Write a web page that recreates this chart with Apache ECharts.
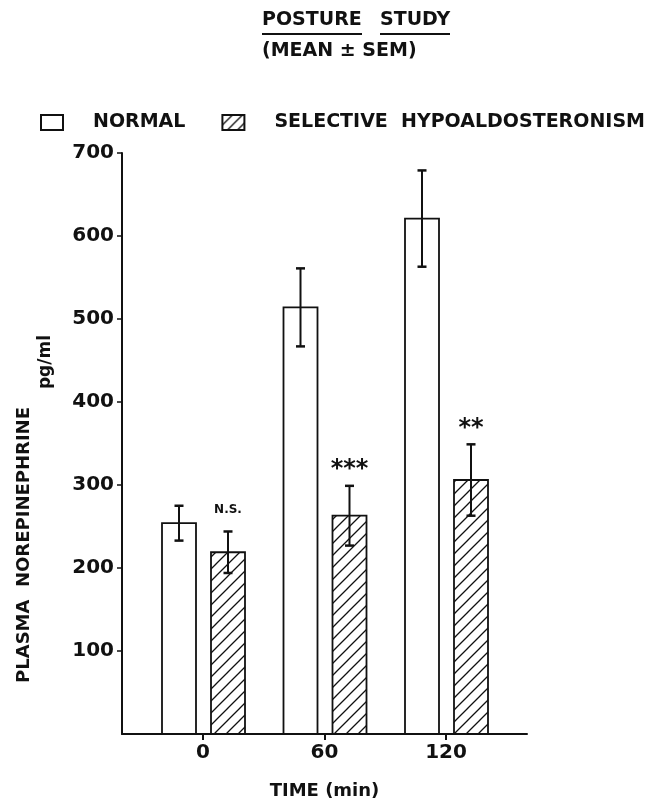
<!DOCTYPE html>
<html>
<head>
<meta charset="utf-8">
<script src="https://cdn.jsdelivr.net/npm/echarts@6/dist/echarts.min.js"></script>
<style>html,body{margin:0;padding:0;background:#fff}#c{width:656px;height:806px}</style>
</head>
<body>
<div id="c"></div>
<script>
// ---- data ----
const timePoints = [0, 60, 120];            // minutes
const normalMean = [254, 514, 621];         // pg/ml
const normalSem  = [21, 47, 58];
const shaMean    = [219, 263, 306];         // selective hypoaldosteronism
const shaSem     = [25, 36, 43];
const annotations = ['N.S.', '***', '**'];
const yTicks = [100, 200, 300, 400, 500, 600, 700];
const xTicks = [0, 60, 120];
const seriesNames = ['NORMAL', 'SELECTIVE  HYPOALDOSTERONISM'];

// hatch pattern
function makeHatch(size) {
  const c = document.createElement('canvas');
  c.width = size; c.height = size;
  const ctx = c.getContext('2d');
  ctx.fillStyle = '#fff';
  ctx.fillRect(0, 0, size, size);
  ctx.strokeStyle = '#111';
  ctx.lineWidth = 1.3;
  ctx.beginPath();
  ctx.moveTo(0, size); ctx.lineTo(size, 0);
  ctx.moveTo(-size / 2, size / 2); ctx.lineTo(size / 2, -size / 2);
  ctx.moveTo(size / 2, size * 1.5); ctx.lineTo(size * 1.5, size / 2);
  ctx.stroke();
  return c;
}
const hatch = { image: makeHatch(12), repeat: 'repeat' };
const hatchLegend = { image: makeHatch(10), repeat: 'repeat' };

const FONT = 'DejaVu Sans';
const INK = '#111';

function makeRender(offsetPx, fill, annos) {
  return function (params, api) {
    const t = api.value(0), m = api.value(1), e = api.value(2);
    const base = api.coord([t, 0]);
    const top = api.coord([t, m]);
    const hi = api.coord([t, m + e]);
    const lo = api.coord([t, m - e]);
    const cx = base[0] + offsetPx;
    const w = 34, cap = 4.5;
    const children = [
      { type: 'rect', shape: { x: cx - w / 2, y: top[1], width: w, height: base[1] - top[1] },
        style: { fill: fill, stroke: INK, lineWidth: 1.8 } },
      { type: 'line', shape: { x1: cx, y1: hi[1], x2: cx, y2: lo[1] }, style: { stroke: INK, lineWidth: 2 } },
      { type: 'line', shape: { x1: cx - cap, y1: hi[1], x2: cx + cap, y2: hi[1] }, style: { stroke: INK, lineWidth: 2.5 } },
      { type: 'line', shape: { x1: cx - cap, y1: lo[1], x2: cx + cap, y2: lo[1] }, style: { stroke: INK, lineWidth: 2.5 } }
    ];
    if (annos) {
      const a = annos[params.dataIndex];
      const isStar = a.indexOf('*') >= 0;
      children.push({
        type: 'text',
        style: {
          text: a, x: cx, y: hi[1] - (isStar ? 4 : 16),
          align: 'center', verticalAlign: 'bottom',
          fill: INK, font: isStar ? 'bold 24px "DejaVu Sans"' : 'bold 12px "DejaVu Sans"'
        }
      });
    }
    return { type: 'group', children: children };
  };
}

const normalData = timePoints.map((t, i) => [t, normalMean[i], normalSem[i]]);
const shaData = timePoints.map((t, i) => [t, shaMean[i], shaSem[i]]);

const chart = echarts.init(document.getElementById('c'), null, { renderer: 'canvas' });
chart.setOption({
  animation: false,
  backgroundColor: '#fff',
  textStyle: { fontFamily: FONT, color: INK },
  legend: {
    left: 40, top: 113, padding: 0, width: 616,
    orient: 'horizontal',
    icon: 'rect',
    itemWidth: 22, itemHeight: 15,
    itemGap: 36,
    textStyle: { fontFamily: FONT, fontSize: 19, fontWeight: 'bold', color: INK, padding: [0, 0, 0, 25] },
    data: [
      { name: seriesNames[0], itemStyle: { color: '#fff', borderColor: INK, borderWidth: 2 } },
      { name: seriesNames[1], itemStyle: { color: hatchLegend, borderColor: INK, borderWidth: 2 } }
    ]
  },
  grid: { left: 122, right: 129, top: 153, bottom: 72 },
  xAxis: {
    type: 'value', min: -40, max: 160,
    name: 'TIME (min)', nameLocation: 'middle', nameGap: 48,
    nameTextStyle: { fontFamily: FONT, fontSize: 18, fontWeight: 'bold', color: INK },
    axisLine: { show: true, lineStyle: { color: INK, width: 2 } },
    axisTick: { show: true, customValues: xTicks, length: 6, lineStyle: { color: INK, width: 2 } },
    axisLabel: { customValues: xTicks, fontFamily: FONT, fontSize: 20, fontWeight: 'bold', color: INK, margin: 9 },
    splitLine: { show: false }
  },
  yAxis: {
    type: 'value', min: 0, max: 700, interval: 100,
    axisLine: { show: true, onZero: false, lineStyle: { color: INK, width: 2 } },
    axisTick: { show: true, customValues: yTicks, length: 5, lineStyle: { color: INK, width: 1.5 } },
    axisLabel: { customValues: yTicks, fontFamily: FONT, fontSize: 20, fontWeight: 'bold', color: INK, margin: 8 },
    splitLine: { show: false }
  },
  graphic: [
    { type: 'text', left: 262, top: 11, style: { text: 'POSTURE', font: 'bold 19px "DejaVu Sans"', fill: INK } },
    { type: 'text', left: 380, top: 11, style: { text: 'STUDY', font: 'bold 19px "DejaVu Sans"', fill: INK } },
    { type: 'line', shape: { x1: 262, y1: 34, x2: 362, y2: 34 }, style: { stroke: INK, lineWidth: 2 } },
    { type: 'line', shape: { x1: 380, y1: 34, x2: 450, y2: 34 }, style: { stroke: INK, lineWidth: 2 } },
    { type: 'text', left: 262, top: 42, style: { text: '(MEAN \u00B1 SEM)', font: 'bold 19px "DejaVu Sans"', fill: INK } },
    { type: 'text', x: 24, y: 545, rotation: Math.PI / 2,
      style: { text: 'PLASMA  NOREPINEPHRINE', font: 'bold 18px "DejaVu Sans"', fill: INK, align: 'center', verticalAlign: 'middle' } },
    { type: 'text', x: 46, y: 362, rotation: Math.PI / 2,
      style: { text: 'pg/ml', font: 'bold 17px "DejaVu Sans"', fill: INK, align: 'center', verticalAlign: 'middle' } }
  ],
  series: [
    { type: 'custom', name: seriesNames[0], data: normalData, encode: { x: 0, y: 1 },
      itemStyle: { color: '#fff', borderColor: INK },
      renderItem: makeRender(-24, '#fff', null) },
    { type: 'custom', name: seriesNames[1], data: shaData, encode: { x: 0, y: 1 },
      itemStyle: { color: hatchLegend, borderColor: INK },
      renderItem: makeRender(25, hatch, annotations) }
  ]
});
</script>
</body>
</html>
